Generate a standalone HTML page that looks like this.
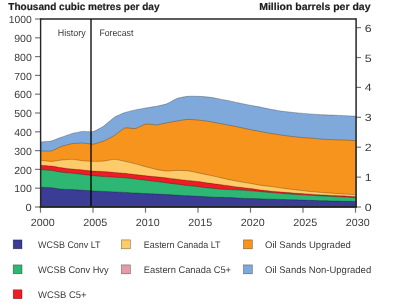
<!DOCTYPE html>
<html><head><meta charset="utf-8"><style>
html,body{margin:0;padding:0;background:#fff;width:400px;height:306px;overflow:hidden}
svg{display:block;will-change:transform}
text{font-family:"Liberation Sans",sans-serif;text-rendering:geometricPrecision}
</style></head><body>
<svg width="400" height="306" viewBox="0 0 400 306">
<rect width="400" height="306" fill="#fff"/>
<path d="M40.80,207.0 L40.80,142.00 C41.32,141.95 50.25,141.25 51.30,141.00 C52.35,140.75 60.75,137.48 61.80,137.10 C62.85,136.72 71.25,133.69 72.30,133.40 C73.35,133.12 81.75,131.49 82.80,131.40 C83.85,131.31 92.25,131.87 93.30,131.60 C94.35,131.33 102.12,127.14 103.80,126.00 C105.48,124.86 112.62,118.37 114.30,117.30 C115.98,116.23 123.12,113.19 124.80,112.60 C126.48,112.01 133.62,110.27 135.30,109.90 C136.98,109.53 144.12,108.29 145.80,108.00 C147.48,107.71 154.62,106.64 156.30,106.30 C157.98,105.96 165.12,104.44 166.80,103.80 C168.48,103.16 175.62,98.90 177.30,98.30 C178.98,97.70 186.12,96.46 187.80,96.30 C189.48,96.14 196.62,96.24 198.30,96.30 C199.98,96.36 207.12,96.89 208.80,97.10 C210.48,97.31 217.62,98.60 219.30,98.90 C220.98,99.20 228.12,100.56 229.80,100.90 C231.48,101.24 238.62,102.85 240.30,103.20 C241.98,103.55 249.12,104.97 250.80,105.30 C252.48,105.63 259.62,106.96 261.30,107.30 C262.98,107.64 270.12,109.19 271.80,109.50 C273.48,109.81 280.62,110.97 282.30,111.20 C283.98,111.43 291.12,112.22 292.80,112.40 C294.48,112.58 301.62,113.26 303.30,113.40 C304.98,113.54 312.12,114.09 313.80,114.20 C315.48,114.31 322.62,114.72 324.30,114.80 C325.98,114.88 333.12,115.13 334.80,115.20 C336.48,115.27 343.62,115.63 345.30,115.70 C346.98,115.77 354.96,116.07 355.80,116.10 L355.80,207.0 Z" fill="#7ea9da" stroke="rgba(0,0,0,0.5)" stroke-width="0.5"/>
<path d="M40.80,207.0 L40.80,150.90 C41.32,150.91 50.25,151.23 51.30,151.00 C52.35,150.77 60.75,146.67 61.80,146.30 C62.85,145.93 71.25,143.76 72.30,143.60 C73.35,143.44 81.75,142.97 82.80,143.00 C83.85,143.03 92.25,144.30 93.30,144.20 C94.35,144.10 102.12,141.69 103.80,141.00 C105.48,140.31 112.62,136.64 114.30,135.60 C115.98,134.56 123.12,128.56 124.80,128.00 C126.48,127.44 133.62,128.91 135.30,128.60 C136.98,128.29 144.12,124.40 145.80,124.10 C147.48,123.80 154.62,125.00 156.30,124.90 C157.98,124.80 165.12,123.22 166.80,122.90 C168.48,122.58 175.62,121.18 177.30,120.90 C178.98,120.62 186.12,119.46 187.80,119.40 C189.48,119.34 196.62,119.94 198.30,120.10 C199.98,120.26 207.12,121.14 208.80,121.40 C210.48,121.66 217.62,123.09 219.30,123.40 C220.98,123.71 228.12,124.97 229.80,125.30 C231.48,125.63 238.62,127.15 240.30,127.50 C241.98,127.85 249.12,129.36 250.80,129.70 C252.48,130.04 259.62,131.39 261.30,131.70 C262.98,132.01 270.12,133.32 271.80,133.60 C273.48,133.88 280.62,134.96 282.30,135.20 C283.98,135.44 291.12,136.41 292.80,136.60 C294.48,136.79 301.62,137.46 303.30,137.60 C304.98,137.74 312.12,138.26 313.80,138.40 C315.48,138.54 322.62,139.19 324.30,139.30 C325.98,139.41 333.12,139.74 334.80,139.80 C336.48,139.86 343.62,140.03 345.30,140.10 C346.98,140.17 354.96,140.65 355.80,140.70 L355.80,207.0 Z" fill="#f7941d" stroke="rgba(0,0,0,0.5)" stroke-width="0.5"/>
<path d="M40.80,207.0 L40.80,160.30 C41.32,160.36 50.25,161.51 51.30,161.50 C52.35,161.49 60.75,160.11 61.80,160.00 C62.85,159.89 71.25,159.26 72.30,159.30 C73.35,159.34 81.75,160.70 82.80,160.80 C83.85,160.91 92.25,161.39 93.30,161.40 C94.35,161.41 102.12,161.27 103.80,161.10 C105.48,160.93 112.62,159.28 114.30,159.30 C115.98,159.32 123.12,160.94 124.80,161.30 C126.48,161.66 133.62,163.36 135.30,163.80 C136.98,164.24 144.12,166.35 145.80,166.80 C147.48,167.25 154.62,169.06 156.30,169.40 C157.98,169.74 165.12,171.02 166.80,171.10 C168.48,171.18 175.62,170.42 177.30,170.40 C178.98,170.38 186.12,170.60 187.80,170.80 C189.48,171.00 196.62,172.56 198.30,172.90 C199.98,173.24 207.12,174.74 208.80,175.10 C210.48,175.46 217.62,177.02 219.30,177.40 C220.98,177.78 228.12,179.45 229.80,179.80 C231.48,180.15 238.62,181.50 240.30,181.80 C241.98,182.10 249.12,183.21 250.80,183.50 C252.48,183.79 259.62,185.15 261.30,185.40 C262.98,185.65 270.12,186.38 271.80,186.60 C273.48,186.82 280.62,187.97 282.30,188.20 C283.98,188.43 291.12,189.27 292.80,189.47 C294.48,189.67 301.62,190.56 303.30,190.75 C304.98,190.94 312.12,191.66 313.80,191.82 C315.48,191.98 322.62,192.57 324.30,192.70 C325.98,192.83 333.12,193.29 334.80,193.40 C336.48,193.51 343.62,194.00 345.30,194.10 C346.98,194.20 354.96,194.65 355.80,194.70 L355.80,207.0 Z" fill="#fecb6b" stroke="rgba(0,0,0,0.5)" stroke-width="0.5"/>
<path d="M40.80,207.0 L40.80,165.30 C41.32,165.34 50.25,165.97 51.30,166.10 C52.35,166.22 60.75,167.65 61.80,167.80 C62.85,167.95 71.25,168.99 72.30,169.10 C73.35,169.21 81.75,169.90 82.80,170.00 C83.85,170.10 92.25,171.02 93.30,171.10 C94.35,171.18 102.12,171.50 103.80,171.60 C105.48,171.70 112.62,172.26 114.30,172.40 C115.98,172.54 123.12,173.12 124.80,173.30 C126.48,173.48 133.62,174.40 135.30,174.60 C136.98,174.80 144.12,175.62 145.80,175.80 C147.48,175.98 154.62,176.63 156.30,176.80 C157.98,176.97 165.12,177.71 166.80,177.90 C168.48,178.09 175.62,178.99 177.30,179.20 C178.98,179.41 186.12,180.32 187.80,180.50 C189.48,180.68 196.62,181.29 198.30,181.50 C199.98,181.71 207.12,182.86 208.80,183.10 C210.48,183.34 217.62,184.28 219.30,184.50 C220.98,184.72 228.12,185.68 229.80,185.90 C231.48,186.12 238.62,187.08 240.30,187.30 C241.98,187.52 249.12,188.38 250.80,188.60 C252.48,188.82 259.62,189.89 261.30,190.10 C262.98,190.31 270.12,191.04 271.80,191.20 C273.48,191.36 280.62,191.95 282.30,192.10 C283.98,192.25 291.12,192.91 292.80,193.03 C294.48,193.15 301.62,193.54 303.30,193.65 C304.98,193.76 312.12,194.27 313.80,194.38 C315.48,194.49 322.62,194.90 324.30,195.00 C325.98,195.10 333.12,195.52 334.80,195.60 C336.48,195.68 343.62,195.91 345.30,196.00 C346.98,196.09 354.96,196.64 355.80,196.70 L355.80,207.0 Z" fill="#ee1c25" stroke="rgba(0,0,0,0.5)" stroke-width="0.5"/>
<path d="M40.80,207.0 L40.80,169.70 C41.32,169.73 50.25,170.27 51.30,170.40 C52.35,170.53 60.75,172.16 61.80,172.30 C62.85,172.44 71.25,173.12 72.30,173.23 C73.35,173.34 81.75,174.35 82.80,174.47 C83.85,174.59 92.25,175.59 93.30,175.70 C94.35,175.81 102.12,176.48 103.80,176.60 C105.48,176.72 112.62,177.10 114.30,177.20 C115.98,177.30 123.12,177.66 124.80,177.80 C126.48,177.94 133.62,178.80 135.30,179.00 C136.98,179.20 144.12,180.09 145.80,180.30 C147.48,180.51 154.62,181.39 156.30,181.60 C157.98,181.81 165.12,182.69 166.80,182.90 C168.48,183.11 175.62,183.98 177.30,184.20 C178.98,184.42 186.12,185.40 187.80,185.60 C189.48,185.80 196.62,186.51 198.30,186.70 C199.98,186.89 207.12,187.82 208.80,188.00 C210.48,188.18 217.62,188.87 219.30,189.00 C220.98,189.13 228.12,189.51 229.80,189.60 C231.48,189.69 238.62,190.00 240.30,190.10 C241.98,190.20 249.12,190.67 250.80,190.80 C252.48,190.93 259.62,191.56 261.30,191.70 C262.98,191.84 270.12,192.46 271.80,192.60 C273.48,192.74 280.62,193.37 282.30,193.50 C283.98,193.63 291.12,194.11 292.80,194.22 C294.48,194.33 301.62,194.72 303.30,194.82 C304.98,194.92 312.12,195.31 313.80,195.41 C315.48,195.51 322.62,196.00 324.30,196.10 C325.98,196.20 333.12,196.52 334.80,196.60 C336.48,196.68 343.62,197.01 345.30,197.10 C346.98,197.19 354.96,197.65 355.80,197.70 L355.80,207.0 Z" fill="#2eb673" stroke="rgba(0,0,0,0.5)" stroke-width="0.5"/>
<path d="M40.80,207.0 L40.80,187.20 C41.32,187.23 50.25,187.70 51.30,187.80 C52.35,187.90 60.75,189.11 61.80,189.20 C62.85,189.29 71.25,189.54 72.30,189.60 C73.35,189.66 81.75,190.24 82.80,190.30 C83.85,190.37 92.25,190.84 93.30,190.90 C94.35,190.96 102.12,191.32 103.80,191.40 C105.48,191.48 112.62,191.82 114.30,191.90 C115.98,191.98 123.12,192.31 124.80,192.40 C126.48,192.49 133.62,192.90 135.30,193.00 C136.98,193.10 144.12,193.51 145.80,193.60 C147.48,193.69 154.62,194.02 156.30,194.10 C157.98,194.18 165.12,194.51 166.80,194.60 C168.48,194.69 175.62,195.10 177.30,195.20 C178.98,195.30 186.12,195.71 187.80,195.80 C189.48,195.89 196.62,196.21 198.30,196.30 C199.98,196.39 207.12,196.82 208.80,196.90 C210.48,196.98 217.62,197.24 219.30,197.30 C220.98,197.36 228.12,197.53 229.80,197.60 C231.48,197.67 238.62,198.12 240.30,198.20 C241.98,198.28 249.12,198.54 250.80,198.60 C252.48,198.66 259.62,198.85 261.30,198.90 C262.98,198.95 270.12,199.15 271.80,199.20 C273.48,199.25 280.62,199.45 282.30,199.50 C283.98,199.55 291.12,199.75 292.80,199.80 C294.48,199.85 301.62,200.04 303.30,200.10 C304.98,200.16 312.12,200.44 313.80,200.50 C315.48,200.56 322.62,200.75 324.30,200.80 C325.98,200.85 333.12,201.06 334.80,201.10 C336.48,201.14 343.62,201.27 345.30,201.30 C346.98,201.33 354.96,201.48 355.80,201.50 L355.80,207.0 Z" fill="#3a3c96" stroke="rgba(0,0,0,0.5)" stroke-width="0.5"/>
<g stroke="#777" stroke-width="1.2"><line x1="35" y1="207.00" x2="40.6" y2="207.00"/><line x1="35" y1="188.20" x2="40.6" y2="188.20"/><line x1="35" y1="169.40" x2="40.6" y2="169.40"/><line x1="35" y1="150.60" x2="40.6" y2="150.60"/><line x1="35" y1="131.80" x2="40.6" y2="131.80"/><line x1="35" y1="113.00" x2="40.6" y2="113.00"/><line x1="35" y1="94.20" x2="40.6" y2="94.20"/><line x1="35" y1="75.40" x2="40.6" y2="75.40"/><line x1="35" y1="56.60" x2="40.6" y2="56.60"/><line x1="35" y1="37.80" x2="40.6" y2="37.80"/><line x1="35" y1="19.00" x2="40.6" y2="19.00"/><line x1="356.1" y1="207.00" x2="361" y2="207.00"/><line x1="356.1" y1="177.11" x2="361" y2="177.11"/><line x1="356.1" y1="147.22" x2="361" y2="147.22"/><line x1="356.1" y1="117.32" x2="361" y2="117.32"/><line x1="356.1" y1="87.43" x2="361" y2="87.43"/><line x1="356.1" y1="57.54" x2="361" y2="57.54"/><line x1="356.1" y1="27.65" x2="361" y2="27.65"/><line x1="40.50" y1="207" x2="40.50" y2="212.7"/><line x1="93.00" y1="207" x2="93.00" y2="212.7"/><line x1="145.50" y1="207" x2="145.50" y2="212.7"/><line x1="198.00" y1="207" x2="198.00" y2="212.7"/><line x1="250.50" y1="207" x2="250.50" y2="212.7"/><line x1="303.00" y1="207" x2="303.00" y2="212.7"/><line x1="355.50" y1="207" x2="355.50" y2="212.7"/></g>
<g fill="none" stroke="#262626">
<line x1="40.6" y1="18.95" x2="356.1" y2="18.95" stroke-width="1.6"/>
<line x1="40.6" y1="18.2" x2="40.6" y2="207.6" stroke-width="1.4"/>
<line x1="356.1" y1="18.2" x2="356.1" y2="207.6" stroke-width="1.5"/>
<line x1="39.7" y1="206.8" x2="356.85" y2="206.8" stroke-width="1.7"/>
<line x1="91.0" y1="19" x2="91.0" y2="206" stroke-width="1.6" stroke="rgba(0,0,0,0.82)"/>
</g>
<g font-size="10" fill="#3a3a3a"><text x="31.8" y="211.20" font-size="10.3" text-anchor="end" textLength="6.2" lengthAdjust="spacingAndGlyphs">0</text><text x="31.8" y="192.40" font-size="10.3" text-anchor="end" textLength="17.6" lengthAdjust="spacingAndGlyphs">100</text><text x="31.8" y="173.60" font-size="10.3" text-anchor="end" textLength="17.6" lengthAdjust="spacingAndGlyphs">200</text><text x="31.8" y="154.80" font-size="10.3" text-anchor="end" textLength="17.6" lengthAdjust="spacingAndGlyphs">300</text><text x="31.8" y="136.00" font-size="10.3" text-anchor="end" textLength="17.6" lengthAdjust="spacingAndGlyphs">400</text><text x="31.8" y="117.20" font-size="10.3" text-anchor="end" textLength="17.6" lengthAdjust="spacingAndGlyphs">500</text><text x="31.8" y="98.40" font-size="10.3" text-anchor="end" textLength="17.6" lengthAdjust="spacingAndGlyphs">600</text><text x="31.8" y="79.60" font-size="10.3" text-anchor="end" textLength="17.6" lengthAdjust="spacingAndGlyphs">700</text><text x="31.8" y="60.80" font-size="10.3" text-anchor="end" textLength="17.6" lengthAdjust="spacingAndGlyphs">800</text><text x="31.8" y="42.00" font-size="10.3" text-anchor="end" textLength="17.6" lengthAdjust="spacingAndGlyphs">900</text><text x="31.8" y="23.20" font-size="10.3" text-anchor="end" textLength="23.0" lengthAdjust="spacingAndGlyphs">1000</text><text x="364.7" y="211.00" font-size="10.5" textLength="6.9" lengthAdjust="spacingAndGlyphs">0</text><text x="364.7" y="181.11" font-size="10.5" textLength="6.9" lengthAdjust="spacingAndGlyphs">1</text><text x="364.7" y="151.22" font-size="10.5" textLength="6.9" lengthAdjust="spacingAndGlyphs">2</text><text x="364.7" y="121.32" font-size="10.5" textLength="6.9" lengthAdjust="spacingAndGlyphs">3</text><text x="364.7" y="91.43" font-size="10.5" textLength="6.9" lengthAdjust="spacingAndGlyphs">4</text><text x="364.7" y="61.54" font-size="10.5" textLength="6.9" lengthAdjust="spacingAndGlyphs">5</text><text x="364.7" y="31.65" font-size="10.5" textLength="6.9" lengthAdjust="spacingAndGlyphs">6</text><text x="42.70" y="225.8" font-size="10.5" text-anchor="middle" textLength="23.8" lengthAdjust="spacingAndGlyphs">2000</text><text x="95.20" y="225.8" font-size="10.5" text-anchor="middle" textLength="23.8" lengthAdjust="spacingAndGlyphs">2005</text><text x="147.70" y="225.8" font-size="10.5" text-anchor="middle" textLength="23.8" lengthAdjust="spacingAndGlyphs">2010</text><text x="200.20" y="225.8" font-size="10.5" text-anchor="middle" textLength="23.8" lengthAdjust="spacingAndGlyphs">2015</text><text x="252.70" y="225.8" font-size="10.5" text-anchor="middle" textLength="23.8" lengthAdjust="spacingAndGlyphs">2020</text><text x="305.20" y="225.8" font-size="10.5" text-anchor="middle" textLength="23.8" lengthAdjust="spacingAndGlyphs">2025</text><text x="357.70" y="225.8" font-size="10.5" text-anchor="middle" textLength="23.8" lengthAdjust="spacingAndGlyphs">2030</text></g>
<text x="8.3" y="9.6" font-size="10.1" font-weight="bold" fill="#1e1e1e" stroke="#1e1e1e" stroke-width="0.2" textLength="151.2" lengthAdjust="spacingAndGlyphs">Thousand cubic metres per day</text>
<text x="259.2" y="9.6" font-size="10.1" font-weight="bold" fill="#1e1e1e" stroke="#1e1e1e" stroke-width="0.2" textLength="111.3" lengthAdjust="spacingAndGlyphs">Million barrels per day</text>
<text x="57.8" y="35.5" font-size="9.4" fill="#3a3a3a" textLength="27.8" lengthAdjust="spacingAndGlyphs">History</text>
<text x="99.4" y="36" font-size="9.4" fill="#3a3a3a" textLength="34" lengthAdjust="spacingAndGlyphs">Forecast</text>
<g font-size="9.6" fill="#3a3a3a"><rect x="13.20" y="239.90" width="8.8" height="8.9" fill="#3a3c96" stroke="rgba(0,0,0,0.5)" stroke-width="0.6"/><text x="38.0" y="247.5" textLength="62.6" lengthAdjust="spacingAndGlyphs">WCSB Conv LT</text><rect x="13.20" y="264.90" width="8.8" height="8.9" fill="#2eb673" stroke="rgba(0,0,0,0.5)" stroke-width="0.6"/><text x="38.0" y="272.7" textLength="70.6" lengthAdjust="spacingAndGlyphs">WCSB Conv Hvy</text><rect x="13.20" y="289.80" width="8.8" height="8.9" fill="#ee1c25" stroke="rgba(0,0,0,0.5)" stroke-width="0.6"/><text x="38.0" y="297.6" textLength="48.6" lengthAdjust="spacingAndGlyphs">WCSB C5+</text><rect x="121.50" y="239.90" width="8.8" height="8.9" fill="#fecb6b" stroke="rgba(0,0,0,0.5)" stroke-width="0.6"/><text x="143.8" y="247.7" textLength="76.6" lengthAdjust="spacingAndGlyphs">Eastern Canada LT</text><rect x="121.50" y="264.90" width="8.8" height="8.9" fill="#e59aa5" stroke="rgba(0,0,0,0.5)" stroke-width="0.6"/><text x="143.8" y="272.7" textLength="87.2" lengthAdjust="spacingAndGlyphs">Eastern Canada C5+</text><rect x="243.50" y="239.90" width="8.8" height="8.9" fill="#f7941d" stroke="rgba(0,0,0,0.5)" stroke-width="0.6"/><text x="265.0" y="247.7" textLength="85.8" lengthAdjust="spacingAndGlyphs">Oil Sands Upgraded</text><rect x="243.50" y="264.90" width="8.8" height="8.9" fill="#7ea9da" stroke="rgba(0,0,0,0.5)" stroke-width="0.6"/><text x="265.0" y="272.7" textLength="106.2" lengthAdjust="spacingAndGlyphs">Oil Sands Non-Upgraded</text></g>
</svg>
</body></html>
